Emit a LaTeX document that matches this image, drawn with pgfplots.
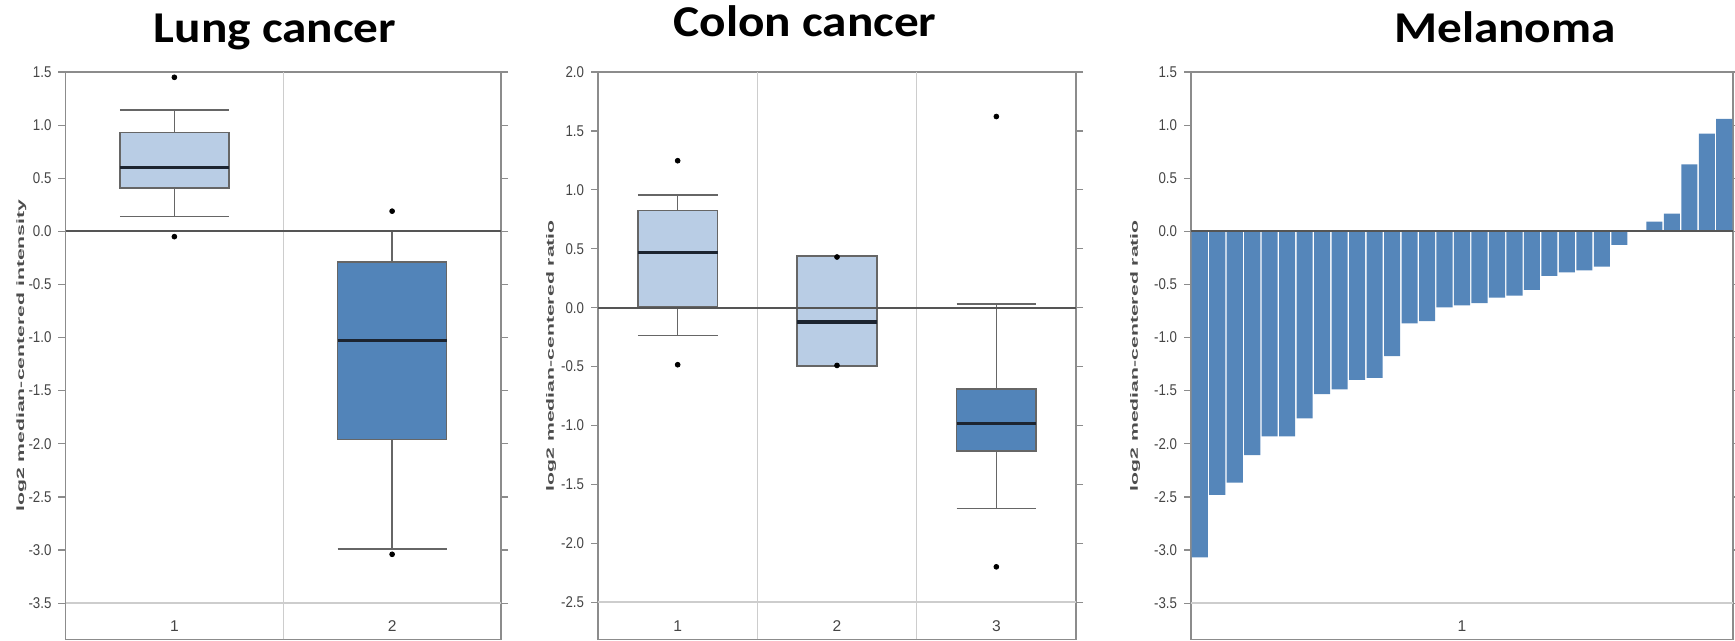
\documentclass[border=0pt]{standalone}
\usepackage{pgfplots}
\pgfplotsset{compat=1.18}
\usepgfplotslibrary{statistics}
\usepackage{fontspec}
\setmainfont{Liberation Sans}
\newfontfamily\titlefont{Carlito}
\definecolor{lightbox}{HTML}{B9CDE5}
\definecolor{darkbox}{HTML}{5284B9}
\definecolor{barc}{HTML}{5586BA}
\definecolor{boxline}{HTML}{666666}
\definecolor{medc}{HTML}{1C2430}
\definecolor{framec}{HTML}{8C8C8C}
\definecolor{sepc}{HTML}{CDCDCD}
\definecolor{zeroc}{HTML}{555555}
\definecolor{tickc}{HTML}{454545}
\newcommand{\tickfont}{\fontsize{7.8}{8}\selectfont}
\newcommand{\lab}[1]{\scalebox{1}[0.5]{\fontsize{10.6}{12}\selectfont\bfseries #1}}
\pgfplotsset{
  panel/.style={
    scale only axis,
    height=283.65pt,
    anchor=south west,
    axis line style={draw=framec, line width=0.7pt},
    tick align=outside,
    major tick length=3.5pt,
    xtick=\empty,
    ytick pos=both,
    yticklabel pos=left,
    ytick style={draw=framec, line width=0.6pt},
    yticklabel={\scalebox{0.85}[1]{\tickfont\pgfmathprintnumber[fixed,fixed zerofill,precision=1,assume math mode=true]{\tick}}},
    yticklabel style={text=tickc},
    boxplot/draw direction=y,
    clip=false,
  },
  ylab/.style={every axis y label/.style={at={(axis description cs:#1,0.5)}, rotate=90, anchor=center, text=black!70}},
  bx/.style n args={6}{
    boxplot prepared={draw position=#1, lower whisker=#2, lower quartile=#3, median=#4, upper quartile=#5, upper whisker=#6, box extend=0.5, whisker extend=0.5, draw direction=y},
    boxplot/every median/.style={draw=medc, line width=1.6pt},
    boxplot/every whisker/.style={draw=boxline, line width=0.75pt},
    mark=*, mark size=1.2pt, mark options={draw=black, fill=black},
  },
  lightb/.style={boxplot/every box/.style={draw=boxline, line width=0.8pt, fill=lightbox}},
  darkb/.style={boxplot/every box/.style={draw=boxline, line width=0.8pt, fill=darkbox}},
}
\begin{document}
\begin{tikzpicture}
\useasboundingbox (0,0) rectangle (867.5pt,320.5pt);
% ---------------- Lung cancer
\begin{axis}[panel, ylab=-0.101, at={(32.75pt,0.85pt)}, width=217.75pt,
  xmin=0.5, xmax=2.5, ymin=-3.84, ymax=1.5,
  ytick={-3.5,-3,-2.5,-2,-1.5,-1,-0.5,0,0.5,1,1.5},
  ylabel={\lab{log2 median-centered intensity}}]
\draw[sepc, line width=0.7pt] (axis cs:1.5,-3.84) -- (axis cs:1.5,1.5);
\draw[sepc, line width=1pt] (axis cs:0.5,-3.5) -- (axis cs:2.5,-3.5);
\addplot[bx={1}{0.14}{0.41}{0.60}{0.93}{1.14}, lightb] coordinates {(0,1.45) (0,-0.05)};
\addplot[bx={2}{-2.99}{-1.96}{-1.03}{-0.29}{0.0}, darkb] coordinates {(0,0.19) (0,-3.04)};
\draw[zeroc, line width=1pt] (axis cs:0.5,0) -- (axis cs:2.5,0);
\node[text=tickc, font=\tickfont] at (axis cs:1,-3.72) {1};
\node[text=tickc, font=\tickfont] at (axis cs:2,-3.72) {2};
\end{axis}
% ---------------- Colon cancer
\begin{axis}[panel, ylab=-0.098, at={(299pt,0.85pt)}, width=239pt,
  xmin=0.5, xmax=3.5, ymin=-2.814, ymax=2.0,
  ytick={-2.5,-2,-1.5,-1,-0.5,0,0.5,1,1.5,2},
  ylabel={\lab{log2 median-centered ratio}}]
\draw[sepc, line width=0.7pt] (axis cs:1.5,-2.814) -- (axis cs:1.5,2.0);
\draw[sepc, line width=0.7pt] (axis cs:2.5,-2.814) -- (axis cs:2.5,2.0);
\draw[sepc, line width=1pt] (axis cs:0.5,-2.5) -- (axis cs:3.5,-2.5);
\addplot[bx={1}{-0.237}{0.01}{0.468}{0.824}{0.955}, lightb] coordinates {(0,1.247) (0,-0.484)};
\addplot[bx={2}{-0.497}{-0.497}{-0.122}{0.436}{0.436}, lightb] coordinates {(0,0.43) (0,-0.49)};
\addplot[bx={3}{-1.702}{-1.215}{-0.981}{-0.692}{0.032}, darkb] coordinates {(0,1.622) (0,-2.199)};
\draw[zeroc, line width=1pt] (axis cs:0.5,0) -- (axis cs:3.5,0);
\node[text=tickc, font=\tickfont] at (axis cs:1,-2.70) {1};
\node[text=tickc, font=\tickfont] at (axis cs:2,-2.70) {2};
\node[text=tickc, font=\tickfont] at (axis cs:3,-2.70) {3};
\end{axis}
% ---------------- Melanoma
\begin{axis}[panel, ylab=-0.103, at={(595.5pt,0.85pt)}, width=271pt,
  xmin=0.5, xmax=31.5, ymin=-3.84, ymax=1.5,
  ytick={-3.5,-3,-2.5,-2,-1.5,-1,-0.5,0,0.5,1,1.5},
  ybar, bar width=0.92,
  ylabel={\lab{log2 median-centered ratio}}]
\draw[sepc, line width=1pt] (axis cs:0.5,-3.5) -- (axis cs:31.5,-3.5);
\addplot[fill=barc, draw=none] coordinates {
(1,-3.07) (2,-2.48) (3,-2.365) (4,-2.106) (5,-1.93) (6,-1.93) (7,-1.76) (8,-1.533)
(9,-1.487) (10,-1.398) (11,-1.38) (12,-1.175) (13,-0.867) (14,-0.846) (15,-0.715)
(16,-0.697) (17,-0.676) (18,-0.623) (19,-0.605) (20,-0.552) (21,-0.418) (22,-0.386)
(23,-0.368) (24,-0.333) (25,-0.127) (26,0) (27,0.092) (28,0.166) (29,0.630) (30,0.920) (31,1.058)};
\draw[zeroc, line width=1pt] (axis cs:0.5,0) -- (axis cs:31.5,0);
\node[text=tickc, font=\tickfont] at (axis cs:16,-3.72) {1};
\end{axis}
% ---------------- titles
\node[anchor=base, font=\titlefont\bfseries\fontsize{22}{24}\selectfont] at (137.5pt,299pt) {\scalebox{1.12}[1]{Lung cancer}};
\node[anchor=base, font=\titlefont\bfseries\fontsize{22}{24}\selectfont] at (402.5pt,302.2pt) {\scalebox{1.12}[1]{Colon cancer}};
\node[anchor=base, font=\titlefont\bfseries\fontsize{22}{24}\selectfont] at (752.5pt,299.2pt) {\scalebox{1.12}[1]{Melanoma}};
\end{tikzpicture}
\end{document}
